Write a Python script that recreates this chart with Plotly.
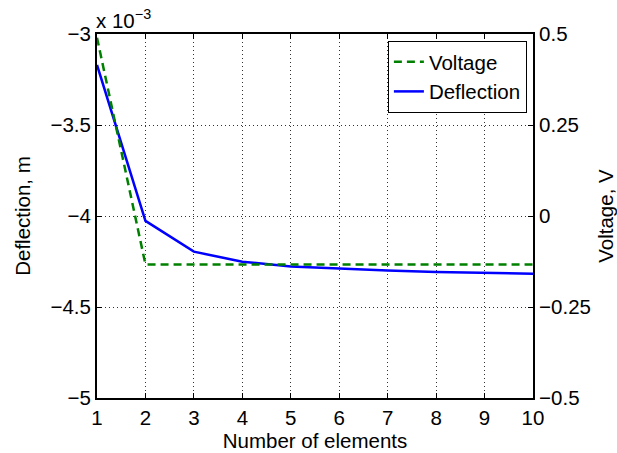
import plotly.graph_objects as go

# Number of elements in the mesh
elements = [1, 2, 3, 4, 5, 6, 7, 8, 9, 10]

# Tip deflection (m) and voltage (V) for each mesh size
deflection = [-3.170e-3, -4.027e-3, -4.196e-3, -4.251e-3, -4.278e-3,
              -4.291e-3, -4.300e-3, -4.308e-3, -4.311e-3, -4.317e-3]
voltage = [0.49, -0.133, -0.133, -0.133, -0.133,
           -0.133, -0.133, -0.133, -0.133, -0.133]

# Axis ticks
x_ticks = elements
defl_ticks = [-5e-3, -4.5e-3, -4e-3, -3.5e-3, -3e-3]
defl_labels = ["\u22125", "\u22124.5", "\u22124", "\u22123.5", "\u22123"]
volt_ticks = [-0.5, -0.25, 0, 0.25, 0.5]
volt_labels = ["\u22120.5", "\u22120.25", "0", "0.25", "0.5"]

FONT = "Liberation Sans, Arial, Helvetica, sans-serif"
FS = 20.5
GRID = dict(showgrid=True, gridcolor="#333333", griddash="1px,3px", gridwidth=1)

fig = go.Figure()
fig.add_trace(go.Scatter(
    x=elements, y=voltage, name="Voltage", yaxis="y2", mode="lines",
    line=dict(color="#008000", width=2.5, dash="8px,5px"),
))
fig.add_trace(go.Scatter(
    x=elements, y=deflection, name="Deflection", yaxis="y", mode="lines",
    line=dict(color="#0000ff", width=2.5),
))

axis_common = dict(
    showline=True, linecolor="black", linewidth=2,
    ticks="inside", ticklen=5, tickwidth=1, tickcolor="black",
    tickfont=dict(family=FONT, size=FS, color="black"),
    zeroline=False, automargin=False,
)

fig.update_layout(
    width=617, height=453,
    margin=dict(l=97, r=84, t=34, b=55),
    paper_bgcolor="white", plot_bgcolor="white",
    font=dict(family=FONT, size=FS, color="black"),
    showlegend=True,
    legend=dict(
        x=0.986, y=0.981, xanchor="right", yanchor="top",
        bgcolor="white", bordercolor="black", borderwidth=1,
        font=dict(family=FONT, size=FS, color="black"),
        tracegroupgap=0, itemwidth=30,
    ),
    xaxis=dict(
        range=[1, 10], tickvals=x_ticks, mirror="ticks",
        title=dict(text="Number of elements", standoff=6,
                   font=dict(family=FONT, size=FS)),
        **GRID, **axis_common,
    ),
    yaxis=dict(
        range=[-5e-3, -3e-3], tickvals=defl_ticks, ticktext=defl_labels,
        mirror="ticks",
        title=dict(text="Deflection, m", standoff=14,
                   font=dict(family=FONT, size=FS)),
        **GRID, **axis_common,
    ),
    yaxis2=dict(
        range=[-0.5, 0.5], tickvals=volt_ticks, ticktext=volt_labels,
        overlaying="y", side="right", showgrid=False,
        title=dict(text="Voltage, V", standoff=14,
                   font=dict(family=FONT, size=FS)),
        **axis_common,
    ),
    annotations=[dict(
        text="x 10<sup>\u22123</sup>", xref="paper", yref="paper",
        x=0, y=1, xanchor="left", yanchor="bottom", xshift=-3, yshift=0,
        showarrow=False, font=dict(family=FONT, size=FS, color="black"),
    )],
)

fig.write_html("out.html")
